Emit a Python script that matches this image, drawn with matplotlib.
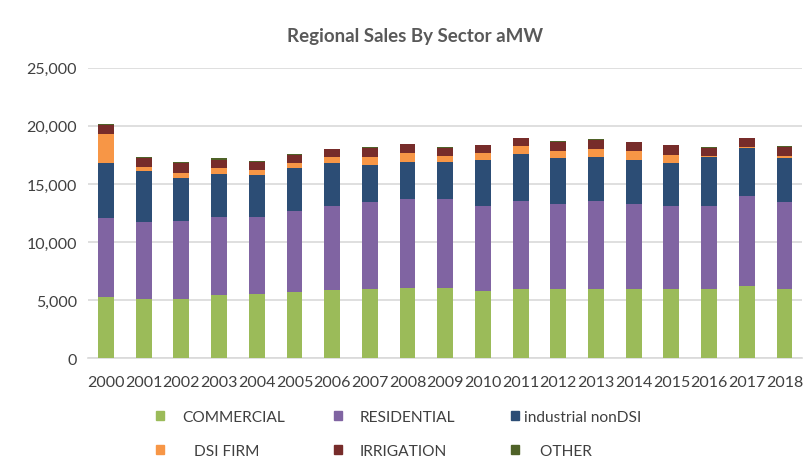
import numpy as np
import matplotlib.pyplot as plt
from matplotlib.patches import Patch

years = [str(y) for y in range(2000, 2019)]

# aMW by sector
commercial = [5280, 5140, 5140, 5430, 5490, 5720, 5860, 6000, 6090, 6090,
              5800, 5950, 5950, 6000, 5950, 5950, 5950, 6180, 6000]
residential = [6760, 6560, 6670, 6750, 6690, 6980, 7270, 7470, 7610, 7610,
               7270, 7550, 7330, 7560, 7300, 7120, 7120, 7760, 7420]
industrial = [4770, 4450, 3710, 3680, 3600, 3650, 3680, 3140, 3170, 3170,
              4000, 4090, 3930, 3740, 3820, 3740, 4230, 4140, 3820]
dsi_firm = [2500, 290, 430, 490, 400, 460, 490, 690, 770, 520,
            570, 630, 660, 720, 770, 690, 90, 80, 150]
irrigation = [720, 770, 830, 720, 740, 690, 660, 800, 750, 720,
              670, 700, 760, 750, 730, 810, 720, 760, 810]
other = [140, 140, 140, 140, 90, 60, 60, 60, 60, 50,
         50, 50, 50, 50, 50, 50, 50, 50, 50]

series = [("COMMERCIAL", commercial, "#9BBB59"),
          ("RESIDENTIAL", residential, "#8064A2"),
          ("industrial nonDSI", industrial, "#2C4D75"),
          ("   DSI FIRM", dsi_firm, "#F79646"),
          ("IRRIGATION", irrigation, "#772C2A"),
          ("    OTHER", other, "#4F6228")]

plt.rcParams['font.family'] = ['Lato', 'DejaVu Sans']

fig = plt.figure(figsize=(8.12, 4.64), dpi=100)
ax = fig.add_axes([0.1084, 0.2256, 0.879, 0.6265])

x = np.arange(len(years))
bottom = np.zeros(len(years))
for name, vals, col in series:
    ax.bar(x, vals, 0.42, bottom=bottom, color=col, label=name, zorder=3)
    bottom += np.array(vals)

ax.set_ylim(0, 25000)
ax.set_xlim(-0.477, 18.46)
ax.set_yticks(range(0, 25001, 5000))
ax.set_yticklabels([f"{v:,}" for v in range(0, 25001, 5000)])
ax.set_xticks(x)
ax.set_xticklabels(years)
ax.grid(axis='y', color='#D9D9D9', linewidth=1.2, zorder=0)
for s in ['top', 'right', 'left']:
    ax.spines[s].set_visible(False)
ax.spines['bottom'].set_color('#D9D9D9')
ax.spines['bottom'].set_linewidth(1.2)
ax.tick_params(axis='x', length=0, labelsize=11.5, colors='#404040', pad=12)
ax.tick_params(axis='y', length=0, labelsize=11.5, colors='#404040', pad=8)

fig.text(0.511, 0.922, "Regional Sales By Sector aMW", ha='center', va='center',
         fontsize=13.5, color='#595959', fontweight='bold')

# legend: one small legend per column, rows read across like Excel
handles = [Patch(color=c, label=n) for n, _, c in series]
cols = [(0, 3, 0.192, 1.15), (1, 4, 0.411, 1.1), (2, 5, 0.629, 0.3)]
for top_i, bot_i, xpos, pad in cols:
    fig.legend([handles[top_i], handles[bot_i]],
               [series[top_i][0], series[bot_i][0]],
               loc='center left', bbox_to_anchor=(xpos, 0.0625), frameon=False,
               fontsize=11.2, labelcolor='#404040', handlelength=0.55,
               handleheight=0.55, labelspacing=1.25, handletextpad=pad,
               borderpad=0, borderaxespad=0)

fig.savefig("out.png", dpi=100)
